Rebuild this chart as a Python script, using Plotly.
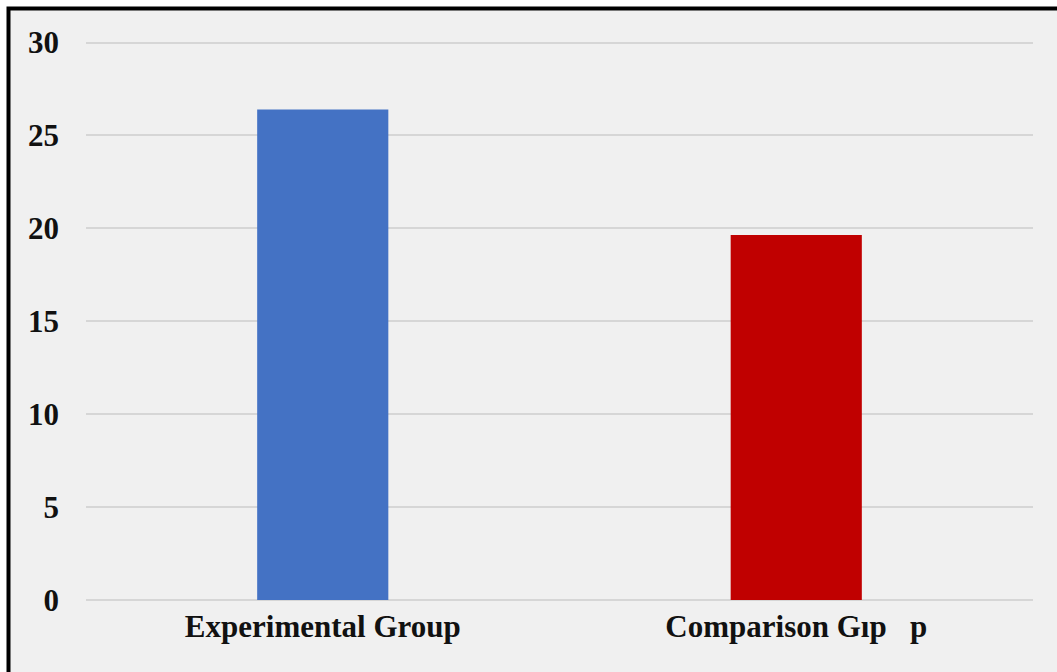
import plotly.graph_objects as go

# Mean scores per group
groups = ["Experimental Group", "Comparison G\u0131p\u00a0\u00a0\u00a0p"]
scores = [26.4, 19.65]
bar_colors = ["#4472C4", "#C00000"]
y_ticks = [0, 5, 10, 15, 20, 25, 30]
y_max = 30.3

W, H = 1057, 672
L, R, T, B = 86, 24, 37, 72
pw, ph = W - L - R, H - T - B


def px_x(p):
    return (p - L) / pw


def px_y(p):
    return (H - B - p) / ph


fig = go.Figure(
    go.Bar(
        x=groups,
        y=scores,
        marker=dict(color=bar_colors, line=dict(width=0)),
        width=0.277,
    )
)

serif = "Liberation Serif"

fig.update_layout(
    width=W,
    height=H,
    margin=dict(l=L, r=R, t=T, b=B),
    paper_bgcolor="white",
    plot_bgcolor="rgba(0,0,0,0)",
    showlegend=False,
    shapes=[
        dict(
            type="rect",
            xref="paper",
            yref="paper",
            x0=px_x(8.5),
            x1=px_x(1120),
            y0=px_y(720),
            y1=px_y(8.5),
            line=dict(color="black", width=4),
            fillcolor="#F0F0F0",
            layer="below",
        )
    ],
)

fig.update_xaxes(
    showgrid=False,
    showline=False,
    zeroline=False,
    ticks="",
    tickfont=dict(family=serif, size=31, color="#111111", weight="bold"),
    ticklabelstandoff=5,
)

fig.update_yaxes(
    range=[0, y_max],
    tickvals=y_ticks,
    showgrid=True,
    gridcolor="#D6D6D6",
    gridwidth=2,
    zeroline=True,
    zerolinecolor="#D6D6D6",
    zerolinewidth=2,
    showline=False,
    ticks="",
    tickfont=dict(family=serif, size=31, color="#111111", weight="bold"),
    ticklabelstandoff=26,
)

fig.write_html("out.html")
